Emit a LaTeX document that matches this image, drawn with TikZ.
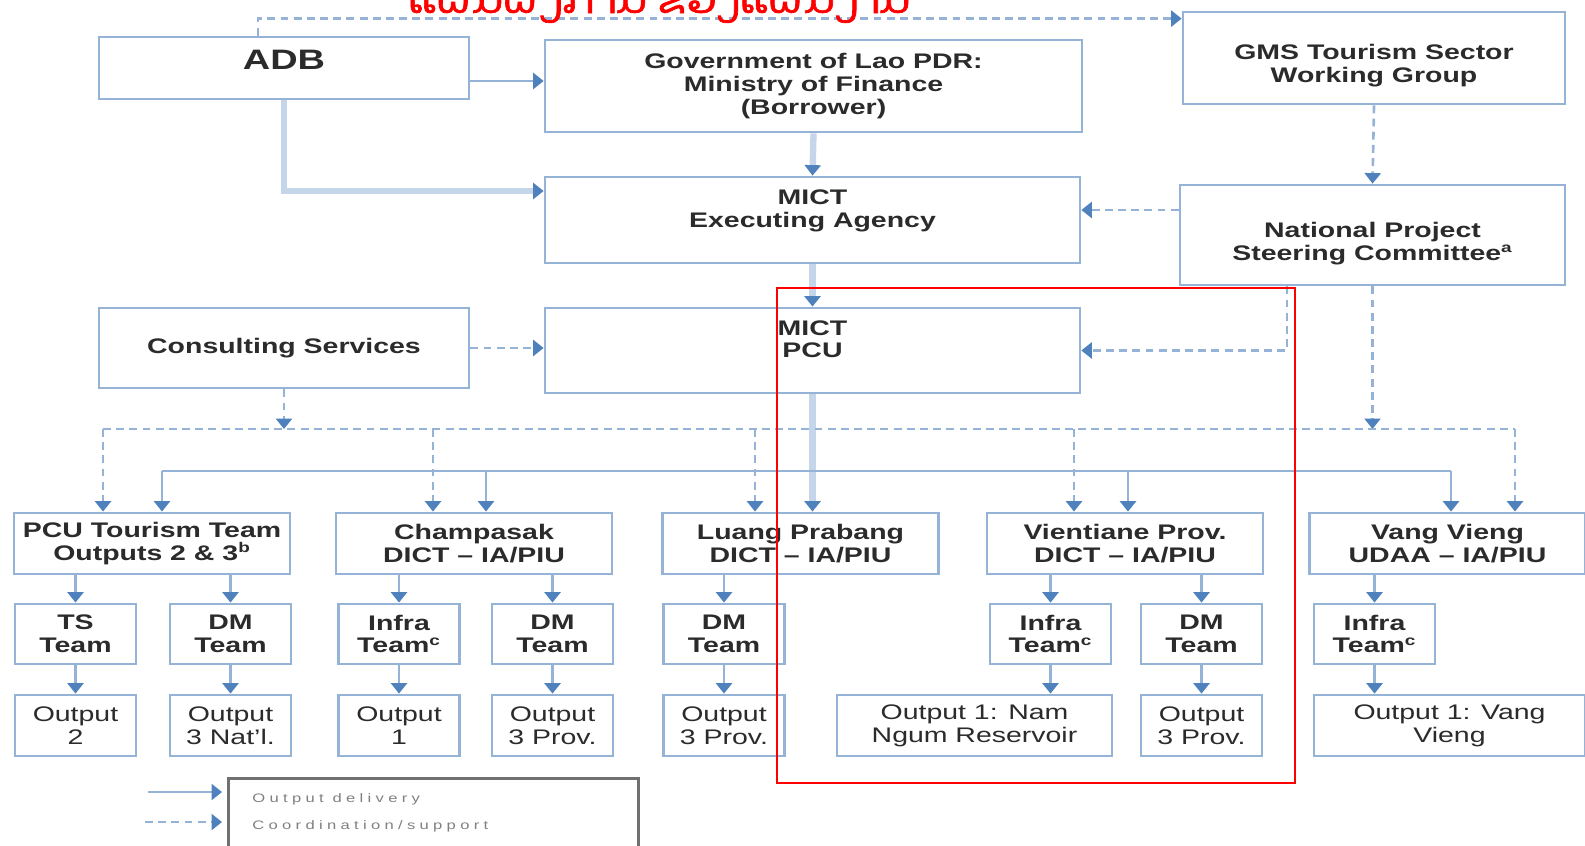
\documentclass[tikz,border=0pt]{standalone}
\usepackage{fontspec}
\setmainfont{Liberation Sans}[FakeStretch=1.35]
\newfontfamily\legendfont{Liberation Sans}[FakeStretch=1.35,LetterSpace=35]
\newfontfamily\laofont[Script=Lao,FakeBold=1.5]{Dhyana}
\usetikzlibrary{arrows.meta}

\definecolor{lineBlue}{HTML}{95B3D7}
\definecolor{paleBlue}{HTML}{C6D6EA}
\definecolor{tipBlue}{HTML}{4F81BD}
\definecolor{textDark}{HTML}{2B2B2B}
\definecolor{legendGrey}{HTML}{707070}

\begin{document}
\begin{tikzpicture}[x=0.02cm,y=-0.02cm,%%
  boxStyle/.style={draw=lineBlue,line width=1.6pt,fill=white,align=center,inner sep=0pt,text=textDark},%%
  headStyle/.style={boxStyle,font=\bfseries\fontsize{12}{13}\selectfont},%%
  labelStyle/.style={align=center,inner sep=0pt,text=textDark,font=\bfseries\fontsize{12}{13}\selectfont},%%
  unitStyle/.style={headStyle,minimum width=5.52cm,minimum height=1.22cm},%%
  teamStyle/.style={headStyle,minimum width=2.42cm,minimum height=1.2cm},%%
  outStyle/.style={boxStyle,font=\fontsize{12}{13}\selectfont,minimum width=2.42cm,minimum height=1.22cm},%%
  deliveryStyle/.style={->,draw=lineBlue,line width=1.5pt},%%
  mainStyle/.style={->,draw=paleBlue,line width=3.6pt},%%
  coordStyle/.style={draw=lineBlue,line width=1.5pt,dash pattern=on 4.5pt off 3pt},%%
  coordArrow/.style={coordStyle,->},%%
  legendStyle/.style={font=\legendfont\fontsize{7}{8}\selectfont,text=gray,anchor=base west,inner sep=0pt},%%
  >={Triangle[width=0.32cm,length=0.21cm,color=tipBlue]}%%
]
%%
\useasboundingbox (0,0) rectangle (1585,845);
%%
%% Upper boxes.
\node[headStyle,minimum width=7.4cm,minimum height=1.24cm,text depth=9pt,font=\bfseries\fontsize{16}{18}\selectfont] (adb) at (284,68) {ADB};
\node[headStyle,minimum width=10.74cm,minimum height=1.84cm] (gov) at (813.5,86) {Government of Lao PDR:\\Ministry of Finance\\(Borrower)};
\node[headStyle,minimum width=10.7cm,minimum height=1.72cm] (ea) at (812.5,220) {MICT\\Executing Agency\\~};
\node[headStyle,minimum width=10.7cm,minimum height=1.7cm] (pcu) at (812.5,350.5) {MICT\\PCU\\~};
\node[headStyle,minimum width=7.64cm,minimum height=1.84cm] (gms) at (1374,58) {};
\node[labelStyle] (gmsText) at (1374,66) {GMS Tourism Sector\\Working Group};
\node[headStyle,minimum width=7.7cm,minimum height=2cm] (npsc) at (1372.5,235) {};
\node[labelStyle] (npscText) at (1372.5,243.5) {National Project\\Steering Committee\textsuperscript{a}};
\node[headStyle,minimum width=7.4cm,minimum height=1.6cm] (cons) at (284,348) {Consulting Services};
%%
%% Implementing units.
\node[unitStyle] (pcut) at (152,543.5) {PCU Tourism Team\\Outputs 2 \& 3\textsuperscript{b}};
\node[unitStyle] (champ) at (474,543.5) {Champasak\\DICT – IA/PIU};
\node[unitStyle] (lp) at (800.5,543.5) {Luang Prabang\\DICT – IA/PIU};
\node[unitStyle] (vient) at (1125,543.5) {Vientiane Prov.\\DICT – IA/PIU};
\node[unitStyle] (vv) at (1447.5,543.5) {Vang Vieng\\UDAA – IA/PIU};
%%
%% Teams.
\node[teamStyle] (ts) at (75.5,634) {TS\\Team};
\node[teamStyle] (dmN) at (230.5,634) {DM\\Team};
\node[teamStyle] (infraC) at (399,634) {Infra\\Team\textsuperscript{c}};
\node[teamStyle] (dmC) at (552.5,634) {DM\\Team};
\node[teamStyle] (dmL) at (724,634) {DM\\Team};
\node[teamStyle] (infraV) at (1050.5,634) {Infra\\Team\textsuperscript{c}};
\node[teamStyle] (dmV) at (1201.5,634) {DM\\Team};
\node[teamStyle] (infraW) at (1374.5,634) {Infra\\Team\textsuperscript{c}};
%%
%% Outputs.
\node[outStyle] (o2) at (75.5,725.5) {Output\\2};
\node[outStyle] (o3n) at (230.5,725.5) {Output\\3 Nat’l.};
\node[outStyle] (o1c) at (399,725.5) {Output\\1};
\node[outStyle] (o3c) at (552.5,725.5) {Output\\3 Prov.};
\node[outStyle] (o3l) at (724,725.5) {Output\\3 Prov.};
\node[outStyle,minimum width=5.5cm] (o1n) at (974.5,725.5) {Output 1: Nam\\Ngum Reservoir};
\node[outStyle] (o3v) at (1201.5,725.5) {Output\\3 Prov.};
\node[outStyle,minimum width=5.42cm] (o1w) at (1449.5,725.5) {Output 1: Vang\\Vieng};
%%
%% Main chain.
\coordinate (adbOut) at ([yshift=-0.26cm]adb.east);
\draw[deliveryStyle] (adbOut) -- (adbOut -| gov.west);
\draw[mainStyle] (adb.south) |- ([yshift=0.58cm]ea.west);
\draw[mainStyle] (gov.south) -- (ea.north);
\draw[mainStyle] (ea.south) -- (pcu.north);
\draw[mainStyle] (pcu.south) -- (pcu.south |- lp.north);
%%
%% Coordination lines.
\draw[coordArrow] ([xshift=-0.52cm]adb.north) |- ([yshift=-0.16cm]gms.north west);
\draw[coordArrow] (gms.south) -- (npsc.north);
\coordinate (npscLeft) at ([yshift=0.2cm]ea.east);
\draw[coordArrow] (npsc.west |- npscLeft) -- (npscLeft);
\coordinate (npscOut) at ([xshift=-1.71cm]npsc.south);
\draw[coordArrow] (npscOut) |- (pcu.east);
\draw[coordArrow] (cons.east) -- (cons.east -| pcu.west);
%%
%% Coordination bus.
\coordinate (busCoord) at (0,429);
\draw[coordArrow] (cons.south) -- (cons.south |- busCoord);
\draw[coordArrow] (npsc.south) -- (npsc.south |- busCoord);
\foreach \unit/\dx in {pcut/-0.98,champ/-0.82,lp/-0.91,vient/-1.02,vv/1.35}{
  \coordinate (co\unit) at ([xshift=\dx cm]\unit.north);
  \draw[coordArrow] (co\unit |- busCoord) -- (co\unit);
}
\draw[coordStyle] (copcut |- busCoord) -- (covv |- busCoord);
%%
%% Delivery bus.
\coordinate (busMain) at (0,471);
\foreach \unit/\dx in {pcut/0.2,champ/0.24,vient/0.06,vv/0.07}{
  \coordinate (de\unit) at ([xshift=\dx cm]\unit.north);
  \draw[deliveryStyle] (de\unit |- busMain) -- (de\unit);
}
\draw[deliveryStyle,-] (depcut |- busMain) -- (devv |- busMain);
%%
%% Units to teams, teams to outputs.
\foreach \unit/\team in {pcut/ts,pcut/dmN,champ/infraC,champ/dmC,lp/dmL,vient/infraV,vient/dmV,vv/infraW}
  \draw[deliveryStyle] (\team.north |- \unit.south) -- (\team.north);
\foreach \team/\out in {ts/o2,dmN/o3n,infraC/o1c,dmC/o3c,dmL/o3l,infraV/o1n,dmV/o3v,infraW/o1w}
  \draw[deliveryStyle] (\team.south) -- (\team.south |- \out.north);
%%
%% Legend.
\node[draw=legendGrey,line width=1.7pt,minimum width=8.22cm,minimum height=1.64cm] (legend) at (433.5,819) {};
\coordinate (legSolidA) at (148,792);
\coordinate (legSolidB) at (222,792);
\coordinate (legDashA) at (145,822);
\coordinate (legDashB) at (222,822);
\draw[deliveryStyle] (legSolidA) -- (legSolidB);
\draw[coordArrow] (legDashA) -- (legDashB);
\node[legendStyle] (legOut) at (252,802) {Output delivery};
\node[legendStyle] (legCoord) at (252,829) {Coordination/support};
%%
%% Highlight and title.
\draw[red,line width=0.9pt] (777,288) rectangle (1295,783);
\node[text=red,font=\laofont\fontsize{25}{28}\selectfont,anchor=base,inner sep=0pt] (title) at (659,13) {ແຜນຜັງການ ຂອງແຜນງານ};
\end{tikzpicture}
\end{document}
